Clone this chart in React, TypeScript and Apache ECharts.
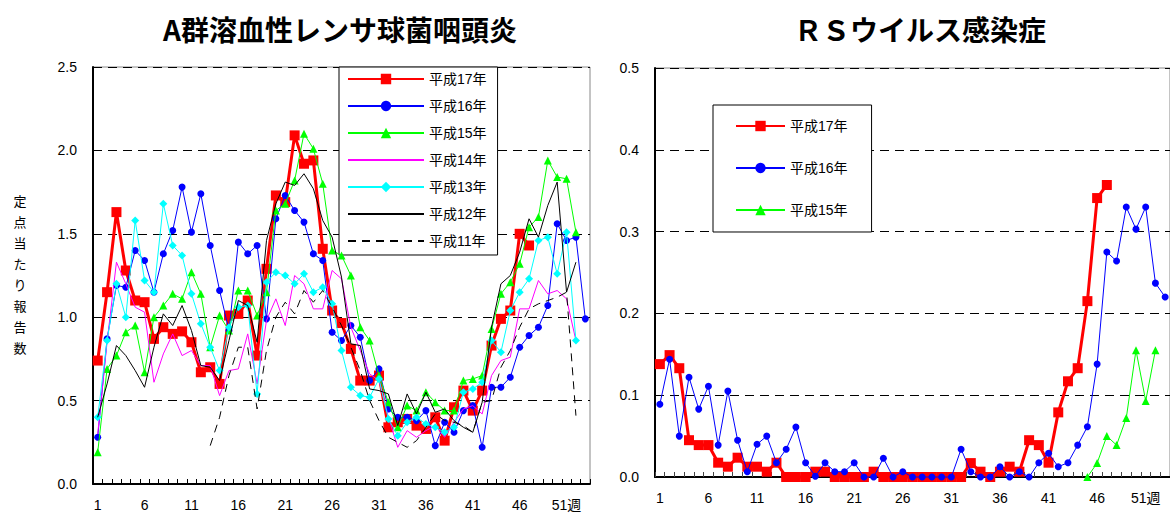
import React, { useEffect, useRef } from 'react';
import * as echarts from 'echarts';

// Week categories (1..53)
const weeks: string[] = [
  '1','2','3','4','5','6','7','8','9','10','11','12','13','14','15','16','17','18','19','20',
  '21','22','23','24','25','26','27','28','29','30','31','32','33','34','35','36','37','38','39','40',
  '41','42','43','44','45','46','47','48','49','50','51','52','53',
];

const seriesNames = ['平成17年', '平成16年', '平成15年', '平成14年', '平成13年', '平成12年', '平成11年'];

// A群溶血性レンサ球菌咽頭炎
const strepH17 = [0.74,1.15,1.63,1.28,1.10,1.09,0.87,0.94,0.90,0.915,0.85,0.67,0.70,0.60,1.01,1.02,1.10,0.77,1.29,1.73,1.69,2.09,1.92,1.94,1.41,1.04,0.965,0.81,0.62,0.62,0.65,0.34,0.37,0.39,0.35,0.33,0.40,0.26,0.46,0.56,0.44,0.56,0.83,0.99,1.04,1.50,1.43];
const strepH16 = [0.28,0.87,1.19,1.18,1.40,1.34,1.15,1.38,1.52,1.78,1.51,1.74,1.43,1.16,0.92,1.45,1.38,1.43,0.99,1.59,1.73,1.64,1.57,1.38,1.34,0.91,0.86,0.95,0.88,0.62,0.69,0.45,0.40,0.40,0.38,0.44,0.23,0.37,0.31,0.44,0.47,0.22,0.58,0.58,0.64,0.82,0.89,0.94,1.07,1.56,1.46,1.48,0.99];
const strepH15 = [0.19,0.69,0.77,0.91,0.95,0.67,1.00,1.07,1.14,1.11,1.27,1.14,0.82,1.01,0.92,1.16,1.16,1.01,1.15,1.64,1.68,1.82,2.10,2.01,1.80,1.40,1.37,1.25,0.94,0.86,0.65,0.49,0.34,0.47,0.44,0.55,0.49,0.44,0.44,0.62,0.63,0.65,0.93,1.14,1.21,1.32,1.54,1.60,1.94,1.84,1.83,1.51];
const strepH14 = [0.30,0.85,1.33,1.20,1.06,1.03,0.61,0.78,0.90,0.77,0.80,0.71,0.71,0.53,0.68,0.69,0.90,0.60,0.98,1.11,0.95,1.25,1.20,1.05,1.05,1.28,1.23,0.94,0.80,0.66,0.62,0.40,0.22,0.32,0.28,0.32,0.35,0.28,0.37,0.45,0.47,0.42,0.65,0.74,0.76,1.05,1.05,1.22,1.14,1.16,1.11,0.86];
const strepH13 = [0.40,0.86,1.20,1.00,1.58,1.22,1.15,1.68,1.43,1.37,1.14,0.96,0.82,0.68,0.94,1.06,1.07,0.54,1.21,1.27,1.25,1.20,1.26,1.15,1.18,1.08,0.80,0.58,0.53,0.52,0.63,0.39,0.29,0.37,0.40,0.36,0.34,0.31,0.34,0.55,0.57,0.61,0.86,0.79,1.04,1.15,1.23,1.46,1.48,1.26,1.51,0.86];
const strepH12 = [0.40,0.60,0.83,0.77,0.68,0.58,0.82,1.02,0.95,1.07,0.92,0.71,0.70,0.62,0.86,1.10,1.07,0.85,1.46,1.68,1.81,1.79,1.86,1.77,1.58,1.48,1.24,0.84,0.83,0.57,0.56,0.54,0.35,0.54,0.42,0.55,0.43,0.45,0.38,0.34,0.31,0.49,0.94,1.20,1.25,1.39,1.59,1.48,1.67,1.81,1.15,1.33];
const strepH11 = [null,null,null,null,null,null,null,null,null,null,null,null,0.23,0.40,0.65,0.82,0.82,0.45,0.80,1.00,1.09,1.02,1.16,1.09,1.16,1.06,0.95,0.82,0.68,0.50,0.38,0.28,0.25,0.22,0.26,0.34,0.42,0.38,0.37,0.35,0.31,0.49,0.50,0.70,0.80,0.94,1.05,1.08,1.10,1.12,1.15,0.41];

// RSウイルス感染症
const rsH17 = [0.138,0.149,0.133,0.045,0.039,0.039,0.0175,0.0126,0.0236,0.0126,0.0126,0.0065,0.0175,0,0,0,0.0065,0.0065,0,0,0,0,0.0065,0,0,0,0,0,0,0,0,0,0.017,0.0065,0,0.0065,0.0126,0.0065,0.045,0.039,0.0175,0.079,0.117,0.133,0.215,0.341,0.357];
const rsH16 = [0.089,0.144,0.050,0.122,0.083,0.111,0.039,0.105,0.045,0.0065,0.040,0.050,0.0175,0.034,0.061,0.0175,0.001,0.0175,0.0065,0.0065,0.0175,0,0,0.023,0,0.0065,0,0,0,0,0,0.034,0.0065,0,0,0.0126,0,0.0065,0,0.0175,0.029,0.0126,0.0175,0.039,0.0615,0.138,0.275,0.264,0.33,0.303,0.33,0.237,0.22];
const rsH15 = [null,null,null,null,null,null,null,null,null,null,null,null,null,null,null,null,null,null,null,null,null,null,null,null,null,null,null,null,null,null,null,null,null,null,null,null,null,null,null,null,null,null,null,null,0,0.017,0.050,0.039,0.072,0.155,0.093,0.155];

const FONT = '"Liberation Sans", "Noto Sans CJK JP", sans-serif';

type Style = { color: string; width: number; symbol: string; size: number; dashed?: boolean; z: number };
const styles: Record<string, Style> = {
  '平成17年': { color: '#FF0000', width: 3, symbol: 'rect', size: 10, z: 3 },
  '平成16年': { color: '#0000FF', width: 1, symbol: 'circle', size: 7, z: 4 },
  '平成15年': { color: '#00FF00', width: 1, symbol: 'triangle', size: 8, z: 5 },
  '平成14年': { color: '#FF00FF', width: 1, symbol: 'none', size: 0, z: 6 },
  '平成13年': { color: '#00FFFF', width: 1, symbol: 'diamond', size: 8, z: 7 },
  '平成12年': { color: '#000000', width: 1, symbol: 'none', size: 0, z: 8 },
  '平成11年': { color: '#000000', width: 1, symbol: 'none', size: 0, dashed: true, z: 9 },
};

function mkSeries(name: string, data: (number | null)[], gi: number) {
  const s = styles[name];
  return {
    name,
    type: 'line',
    xAxisIndex: gi,
    yAxisIndex: gi,
    data,
    z: s.z,
    clip: false,
    symbol: s.symbol,
    symbolSize: s.size,
    showSymbol: s.symbol !== 'none',
    showAllSymbol: true,
    connectNulls: false,
    itemStyle: { color: s.color },
    lineStyle: { color: s.color, width: s.width, type: s.dashed ? [8, 6] : 'solid' },
    emphasis: { disabled: true },
  };
}

function legendItem(name: string) {
  const s = styles[name];
  if (s.symbol === 'none') {
    return { name, itemStyle: { color: 'rgba(0,0,0,0)', borderColor: 'rgba(0,0,0,0)', borderWidth: 0, opacity: 0 } };
  }
  return { name };
}

function xAxisCfg(gi: number) {
  return {
    type: 'category',
    gridIndex: gi,
    data: weeks,
    boundaryGap: true,
    axisLine: { show: true, lineStyle: { color: '#000', width: 2 } },
    axisTick: { show: true, inside: true, length: 5, interval: 0, lineStyle: { color: gi === 0 ? '#000' : '#444' } },
    axisLabel: {
      interval: 4,
      margin: 14,
      color: '#000',
      fontSize: 14,
      fontFamily: FONT,
      formatter: (v: string) => (v === '51' ? '51週' : v),
    },
    splitLine: { show: false },
  };
}

function yAxisCfg(gi: number, max: number, interval: number) {
  return {
    type: 'value',
    gridIndex: gi,
    min: 0,
    max,
    interval,
    axisLine: { show: true, lineStyle: { color: '#000', width: 2 } },
    axisTick: { show: false },
    axisLabel: {
      color: '#000',
      fontSize: 14,
      fontFamily: FONT,
      margin: 16,
      formatter: (v: number) => v.toFixed(1),
    },
    splitLine: { show: true, lineStyle: { color: '#000', width: 1, type: [9, 6] } },
  };
}

export default function App() {
  const ref = useRef<HTMLDivElement>(null);
  useEffect(() => {
    const chart = echarts.init(ref.current!, null, { renderer: 'svg' });
    const option = {
      animation: false,
      backgroundColor: '#fff',
      textStyle: { fontFamily: FONT },
      grid: [
        { left: 93, top: 67, width: 497, height: 417, show: true, borderColor: '#888', borderWidth: 1, backgroundColor: 'transparent' },
        { left: 655, top: 68, width: 519, height: 409, show: true, borderColor: '#888', borderWidth: 1, backgroundColor: 'transparent' },
      ],
      xAxis: [xAxisCfg(0), xAxisCfg(1)],
      yAxis: [yAxisCfg(0, 2.5, 0.5), yAxisCfg(1, 0.5, 0.1)],
      legend: [
        {
          data: seriesNames.map(legendItem),
          orient: 'vertical',
          left: 339,
          top: 67,
          itemWidth: 76,
          itemHeight: 13,
          itemGap: 13,
          padding: [5, 11, 7, 8],
          borderColor: '#000',
          borderWidth: 1,
          backgroundColor: '#fff',
          selectedMode: false,
          textStyle: { fontSize: 14, color: '#000', fontFamily: FONT },
        },
        {
          data: ['平成17年', '平成16年', '平成15年'].map(legendItem),
          orient: 'vertical',
          left: 713,
          top: 105,
          itemWidth: 49,
          itemHeight: 13,
          itemGap: 28,
          padding: [14, 24, 15, 22],
          borderColor: '#000',
          borderWidth: 1,
          backgroundColor: '#fff',
          selectedMode: false,
          textStyle: { fontSize: 14, color: '#000', fontFamily: FONT },
        },
      ],
      graphic: [
        {
          type: 'text',
          x: 340,
          y: 29,
          style: {
            text: 'A群溶血性レンサ球菌咽頭炎',
            fontSize: 28,
            fontWeight: 'bold',
            fontFamily: '"Noto Sans CJK JP", sans-serif',
            fill: '#000',
            align: 'center',
            verticalAlign: 'middle',
          },
        },
        {
          type: 'text',
          x: 920,
          y: 29,
          style: {
            text: 'ＲＳウイルス感染症',
            fontSize: 28,
            fontWeight: 'bold',
            fontFamily: '"Noto Sans CJK JP", sans-serif',
            fill: '#000',
            align: 'center',
            verticalAlign: 'middle',
          },
        },
        {
          type: 'text',
          x: 20,
          y: 274,
          style: {
            text: '定\n点\n当\nた\nり\n報\n告\n数',
            fontSize: 13,
            lineHeight: 21,
            fontFamily: '"Noto Sans CJK JP", sans-serif',
            fill: '#000',
            align: 'center',
            verticalAlign: 'middle',
          },
        },
      ],
      series: [
        mkSeries('平成17年', strepH17, 0),
        mkSeries('平成16年', strepH16, 0),
        mkSeries('平成15年', strepH15, 0),
        mkSeries('平成14年', strepH14, 0),
        mkSeries('平成13年', strepH13, 0),
        mkSeries('平成12年', strepH12, 0),
        mkSeries('平成11年', strepH11, 0),
        mkSeries('平成17年', rsH17, 1),
        mkSeries('平成16年', rsH16, 1),
        mkSeries('平成15年', rsH15, 1),
      ],
    };
    chart.setOption(option as any);
    return () => chart.dispose();
  }, []);
  return (
    <div
      ref={ref}
      style={{ position: 'absolute', left: 0, top: 0, width: 1170, height: 513, background: '#fff' }}
    />
  );
}
